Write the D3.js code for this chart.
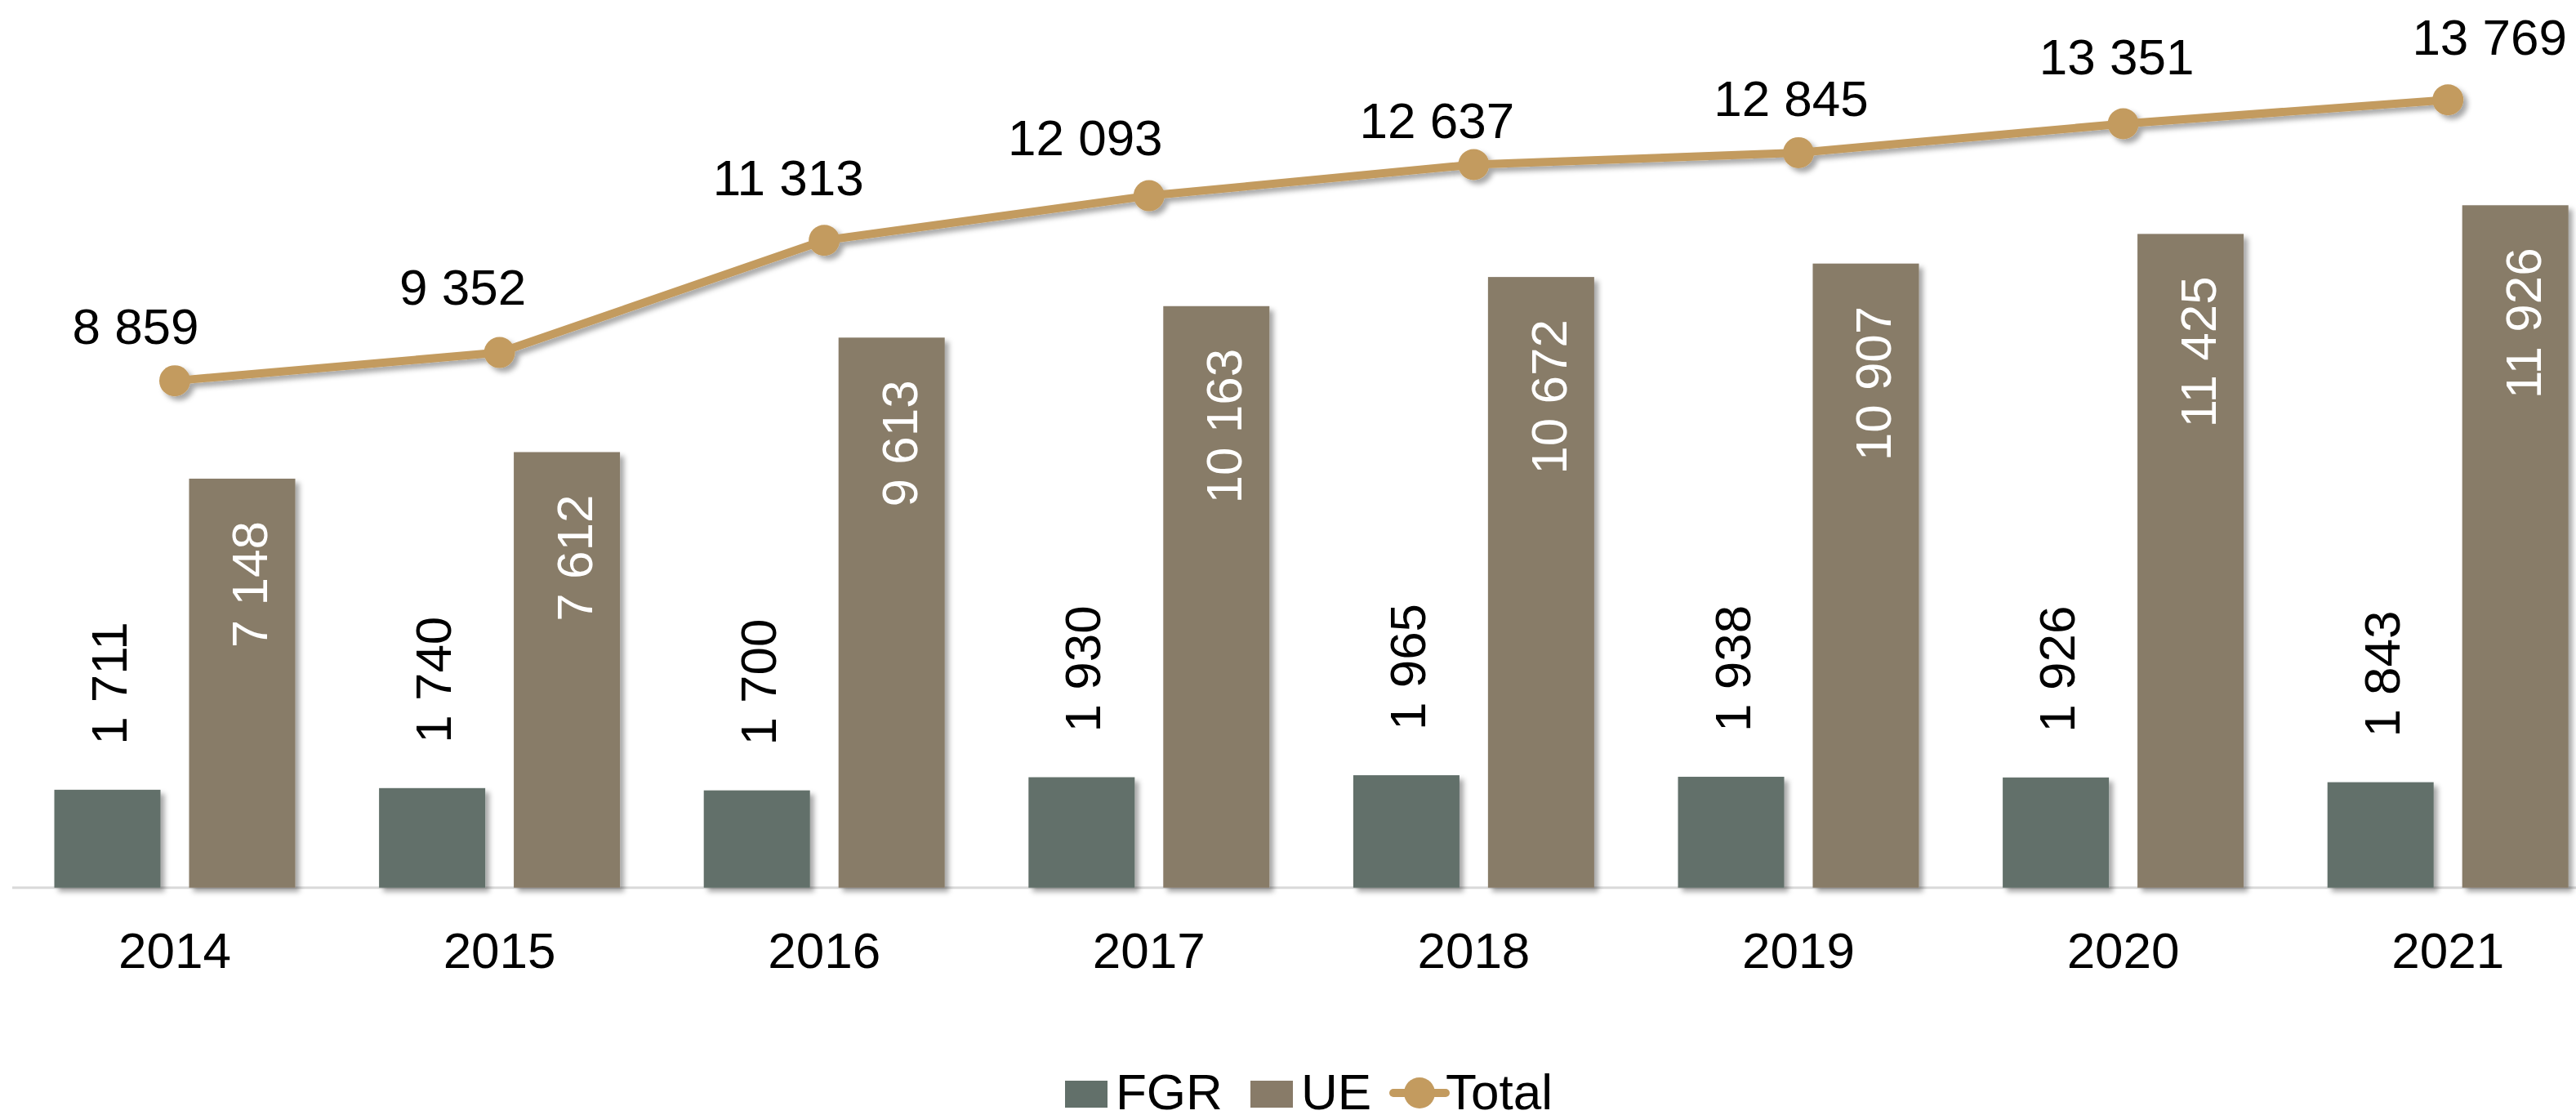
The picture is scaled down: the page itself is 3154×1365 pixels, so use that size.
<!DOCTYPE html>
<html>
<head>
<meta charset="utf-8">
<script src="https://cdn.jsdelivr.net/npm/d3@7"></script>
<style>
  html, body { margin: 0; padding: 0; background: #fff; }
  svg { display: block; font-family: "Liberation Sans", Arial, sans-serif; }
</style>
</head>
<body>
<script>
var years = ["2014", "2015", "2016", "2017", "2018", "2019", "2020", "2021"];
var fgr = [1711, 1740, 1700, 1930, 1965, 1938, 1926, 1843];
var ue = [7148, 7612, 9613, 10163, 10672, 10907, 11425, 11926];
var total = [8859, 9352, 11313, 12093, 12637, 12845, 13351, 13769];
var seriesNames = ["FGR", "UE", "Total"];

var width = 3154,
    height = 1365,
    baseY = 1086.7,
    fontSize = 62;

var colors = { FGR: "#62706A", UE: "#887B68", Total: "#C39B5F" };

// the Total labels were dragged by hand in the original, so they get small nudges
var totalNudge = [[-48, -45], [-45, -59], [-44, -55], [-78, -50], [-45, -32], [-9, -45], [-8, -60], [51, -55]];

var fmt = function (v) { return d3.format(",")(v).replace(/,/g, " "); };

var svg = d3.select("body").append("svg")
    .attr("width", width)
    .attr("height", height);

var defs = svg.append("defs");
var shadow = defs.append("filter")
    .attr("id", "shadow")
    .attr("x", "-20%").attr("y", "-20%")
    .attr("width", "140%").attr("height", "140%");
shadow.append("feDropShadow")
    .attr("dx", 5).attr("dy", 5)
    .attr("stdDeviation", 3)
    .attr("flood-color", "#000")
    .attr("flood-opacity", 0.35);

var x = d3.scaleBand()
    .domain(years)
    .range([15.2, 15.2 + 8 * 397.6])
    .padding(0);

var xSub = d3.scaleBand()
    .domain(["FGR", "UE"])
    .range([0, x.bandwidth()])
    .paddingInner(0.212)
    .paddingOuter(0.311);

var y = d3.scaleLinear()
    .domain([0, 15000])
    .range([baseY, baseY - 15000 * 0.07005]);

// baseline
svg.append("line")
    .attr("x1", 15).attr("x2", width)
    .attr("y1", baseY).attr("y2", baseY)
    .attr("stroke", "#D9D9D9")
    .attr("stroke-width", 3);

var barData = [];
years.forEach(function (yr, i) {
    barData.push({ year: yr, key: "FGR", value: fgr[i] });
    barData.push({ year: yr, key: "UE", value: ue[i] });
});

var bars = svg.append("g").attr("filter", "url(#shadow)");
bars.selectAll("rect")
    .data(barData)
    .enter().append("rect")
    .attr("x", function (d) { return x(d.year) + xSub(d.key); })
    .attr("y", function (d) { return y(d.value); })
    .attr("width", xSub.bandwidth())
    .attr("height", function (d) { return baseY - y(d.value); })
    .attr("fill", function (d) { return colors[d.key]; });

// rotated bar labels
svg.append("g").selectAll("text")
    .data(barData)
    .enter().append("text")
    .attr("transform", function (d) {
        var cx = x(d.year) + xSub(d.key) + xSub.bandwidth() / 2;
        var tx = d.key === "FGR" ? cx + 23 : cx + 31;
        var ty = d.key === "FGR" ? y(d.value) - 55 : y(d.value) + 52;
        return "translate(" + tx + "," + ty + ") rotate(-90)";
    })
    .attr("text-anchor", function (d) { return d.key === "FGR" ? "start" : "end"; })
    .attr("font-size", fontSize)
    .attr("fill", function (d) { return d.key === "FGR" ? "#000" : "#fff"; })
    .text(function (d) { return fmt(d.value); });

// total line
var cxOf = function (i) { return x(years[i]) + x.bandwidth() / 2; };
var line = d3.line()
    .x(function (d, i) { return cxOf(i); })
    .y(function (d) { return y(d); });

var lineG = svg.append("g").attr("filter", "url(#shadow)");
lineG.append("path")
    .datum(total)
    .attr("d", line)
    .attr("fill", "none")
    .attr("stroke", colors.Total)
    .attr("stroke-width", 10)
    .attr("stroke-linejoin", "round");

lineG.selectAll("circle")
    .data(total)
    .enter().append("circle")
    .attr("cx", function (d, i) { return cxOf(i); })
    .attr("cy", function (d) { return y(d); })
    .attr("r", 19)
    .attr("fill", colors.Total);

svg.append("g").selectAll("text")
    .data(total)
    .enter().append("text")
    .attr("x", function (d, i) { return cxOf(i) + totalNudge[i][0]; })
    .attr("y", function (d, i) { return y(d) + totalNudge[i][1]; })
    .attr("text-anchor", "middle")
    .attr("font-size", fontSize)
    .attr("fill", "#000")
    .text(function (d) { return fmt(d); });

// x axis labels
svg.append("g").selectAll("text")
    .data(years)
    .enter().append("text")
    .attr("x", function (d) { return x(d) + x.bandwidth() / 2; })
    .attr("y", 1185)
    .attr("text-anchor", "middle")
    .attr("font-size", fontSize)
    .attr("fill", "#000")
    .text(function (d) { return d; });

// legend
var legend = svg.append("g");
var legendY = 1358;

legend.append("rect")
    .attr("x", 1304).attr("y", 1323)
    .attr("width", 52).attr("height", 33)
    .attr("fill", colors.FGR);
legend.append("text")
    .attr("x", 1366).attr("y", legendY)
    .attr("font-size", fontSize)
    .text(seriesNames[0]);

legend.append("rect")
    .attr("x", 1531).attr("y", 1323)
    .attr("width", 52).attr("height", 33)
    .attr("fill", colors.UE);
legend.append("text")
    .attr("x", 1593).attr("y", legendY)
    .attr("font-size", fontSize)
    .text(seriesNames[1]);

legend.append("line")
    .attr("x1", 1706).attr("x2", 1770)
    .attr("y1", 1338).attr("y2", 1338)
    .attr("stroke", colors.Total)
    .attr("stroke-width", 10)
    .attr("stroke-linecap", "round");
legend.append("circle")
    .attr("cx", 1738).attr("cy", 1338)
    .attr("r", 19)
    .attr("fill", colors.Total);
legend.append("text")
    .attr("x", 1770).attr("y", legendY)
    .attr("font-size", fontSize)
    .text(seriesNames[2]);
</script>
</body>
</html>
